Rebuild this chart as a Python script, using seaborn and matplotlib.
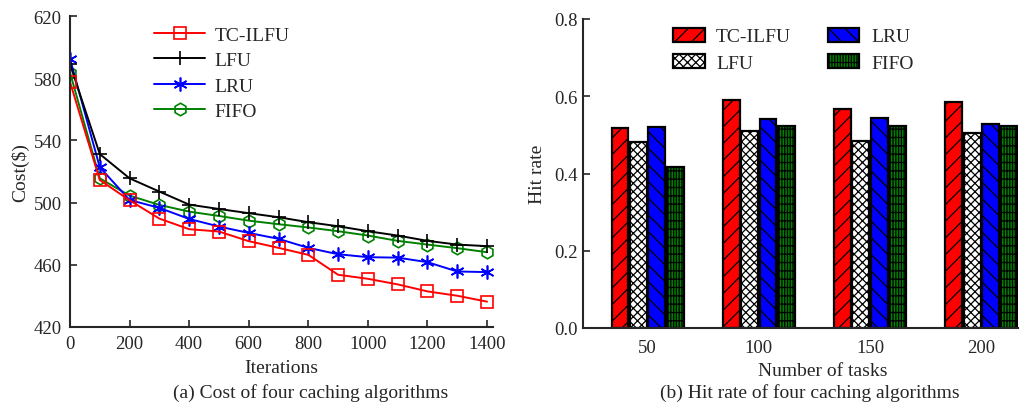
import matplotlib
matplotlib.use("Agg")
import matplotlib.pyplot as plt
import seaborn as sns
import pandas as pd
import numpy as np

# ---------------- data ----------------
iterations = [0, 100, 200, 300, 400, 500, 600, 700, 800, 900, 1000, 1100, 1200, 1300, 1400]
cost_tcilfu = [577.6, 514.5, 501.5, 489.7, 482.9, 481.4, 475.2, 470.9, 466.4, 453.6, 451.0, 447.4, 442.9, 440.1, 436.3]
cost_lfu = [589.0, 531.2, 515.6, 507.1, 498.7, 495.9, 493.2, 490.6, 487.4, 484.8, 481.6, 478.8, 475.4, 473.0, 472.0]
cost_lru = [592.5, 522.7, 501.7, 496.6, 489.5, 484.6, 480.5, 476.7, 470.9, 466.8, 464.9, 464.6, 461.7, 455.7, 455.3]
cost_fifo = [583.6, 515.6, 504.5, 498.5, 494.2, 491.4, 488.4, 486.1, 484.0, 481.6, 478.8, 475.4, 473.0, 470.7, 468.1]

tasks = ["50", "100", "150", "200"]
algorithms = ["TC-ILFU", "LFU", "LRU", "FIFO"]
hit_tcilfu = [0.519, 0.590, 0.566, 0.584]
hit_lfu = [0.482, 0.509, 0.485, 0.506]
hit_lru = [0.520, 0.541, 0.544, 0.529]
hit_fifo = [0.418, 0.522, 0.522, 0.522]

# ---------------- style ----------------
sns.set_theme(style="ticks")
plt.rcParams["font.family"] = ["Liberation Serif", "DejaVu Serif"]
plt.rcParams["hatch.linewidth"] = 0.9
FS = 14
TFS = 13.5

fig = plt.figure(figsize=(10.22, 4.06), dpi=100)
W, H = 1022, 406
ax1 = fig.add_axes([70 / W, 1 - 328 / H, (493 - 70) / W, (328 - 17) / H])
ax2 = fig.add_axes([583 / W, 1 - 329 / H, (1018 - 583) / W, (329 - 20) / H])

# ---------------- left: line chart ----------------
line_specs = [
    ("FIFO", cost_fifo, "#008000", "h", 9),
    ("LRU", cost_lru, "#0000ff", (6, 2, 0), 10),
    ("LFU", cost_lfu, "black", "+", 10),
    ("TC-ILFU", cost_tcilfu, "#ff0000", "s", 8),
]
for name, vals, col, mk, ms in line_specs:
    sns.lineplot(x=iterations, y=vals, ax=ax1, color=col, marker=mk, markersize=ms,
                 markerfacecolor="none", markeredgecolor=col, markeredgewidth=1.2,
                 linewidth=1.4, label=name)

ax1.set_xlim(0, 1420)
ax1.set_ylim(420, 620)
ax1.set_xticks(range(0, 1401, 200))
ax1.set_yticks(range(420, 621, 40))
ax1.set_xlabel("Iterations", fontsize=FS, labelpad=5)
ax1.set_ylabel("Cost($)", fontsize=FS, labelpad=3)
ax1.tick_params(direction="in", length=5, width=1.2, labelsize=TFS, pad=6)
for s in ["top", "right"]:
    ax1.spines[s].set_visible(False)
for s in ["left", "bottom"]:
    ax1.spines[s].set_linewidth(1.5)

h, l = ax1.get_legend_handles_labels()
order = ["TC-ILFU", "LFU", "LRU", "FIFO"]
hd = {lab: hh for hh, lab in zip(h, l)}
ax1.legend([hd[o] for o in order], order, loc="upper left", bbox_to_anchor=(0.172, 1.005),
           frameon=False, fontsize=FS, handlelength=2.6, handletextpad=0.5,
           labelspacing=0.4, borderaxespad=0.2)

# ---------------- right: bar chart ----------------
df = pd.DataFrame({
    "tasks": tasks * 4,
    "alg": sum([[a] * 4 for a in algorithms], []),
    "hit": hit_tcilfu + hit_lfu + hit_lru + hit_fifo,
})
bar_colors = {"TC-ILFU": "#ff0000", "LFU": "white", "LRU": "#0000ff", "FIFO": "#008000"}
sns.barplot(data=df, x="tasks", y="hit", hue="alg", order=tasks, hue_order=algorithms,
            palette=bar_colors, width=0.66, gap=0.08, edgecolor="black", linewidth=1.6,
            saturation=1, ax=ax2, errorbar=None)

hatches = {"TC-ILFU": "//", "LFU": "xxxx", "LRU": "\\\\", "FIFO": "||||||--"}
hcolors = {"TC-ILFU": "black", "LFU": "#808080", "LRU": "black", "FIFO": "black"}
for cont, alg in zip(ax2.containers, algorithms):
    for p in cont:
        p.set_hatch(hatches[alg])
        if hasattr(p, "set_hatchcolor"):
            p.set_hatchcolor(hcolors[alg])

ax2.set_xlim(-0.58, 3.33)
ax2.set_ylim(0, 0.8)
ax2.set_yticks([0.0, 0.2, 0.4, 0.6, 0.8])
ax2.set_yticklabels(["0.0", "0.2", "0.4", "0.6", "0.8"])
ax2.set_xlabel("Number of tasks", fontsize=FS)
ax2.xaxis.set_label_coords(0.552, -0.11)
ax2.set_ylabel("Hit rate", fontsize=FS, labelpad=6)
ax2.tick_params(axis="y", direction="in", length=5, width=1.2, labelsize=TFS, pad=4)
ax2.tick_params(axis="x", length=0, labelsize=TFS, pad=8)
for s in ["top", "right"]:
    ax2.spines[s].set_visible(False)
for s in ["left", "bottom"]:
    ax2.spines[s].set_linewidth(1.5)

hb, lb = ax2.get_legend_handles_labels()
for hh, lab in zip(hb, lb):
    hh.set_hatch(hatches[lab])
    hh.set_edgecolor("black")
    hh.set_linewidth(1.6)
    if hasattr(hh, "set_hatchcolor"):
        hh.set_hatchcolor(hcolors[lab])
ax2.legend(hb, lb, ncol=2, loc="upper left", bbox_to_anchor=(0.181, 1.01), frameon=False,
           fontsize=FS, handlelength=1.6, handleheight=0.75, handletextpad=0.6,
           labelspacing=0.45, columnspacing=1.9, borderaxespad=0.2)

# ---------------- captions ----------------
fig.text(311 / W, 1 - 393 / H, "(a) Cost of four caching algorithms", ha="center", va="center", fontsize=FS)
fig.text(810 / W, 1 - 393 / H, "(b) Hit rate of four caching algorithms", ha="center", va="center", fontsize=FS)

fig.savefig("out.png", dpi=100)
